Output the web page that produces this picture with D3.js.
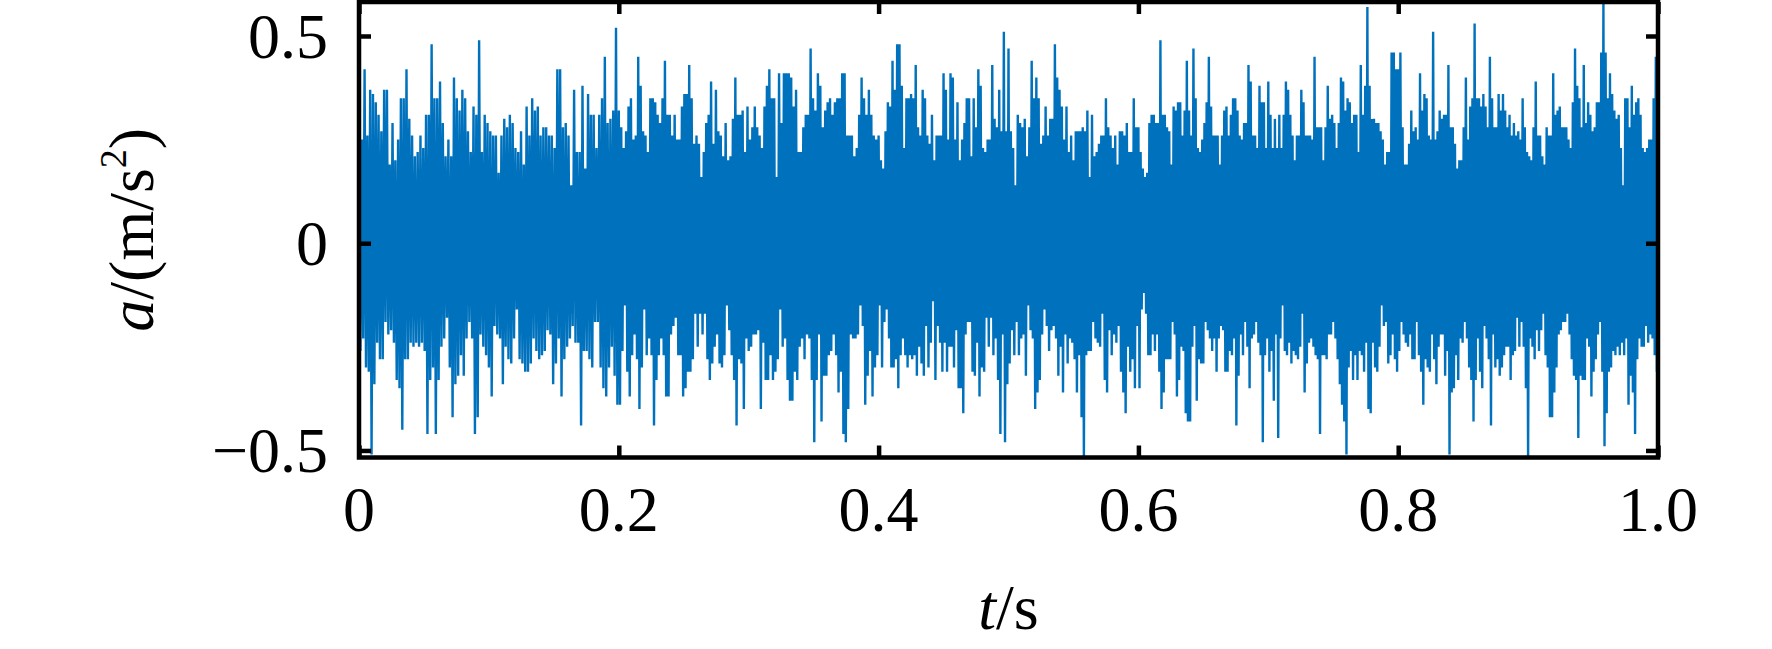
<!DOCTYPE html>
<html><head><meta charset="utf-8">
<script src="https://cdn.jsdelivr.net/npm/d3@7"></script>
<style>body{margin:0;background:#fff}svg{display:block}</style>
</head><body><svg id="c" width="1772" height="649"></svg>
<script>
// ---- tick values / labels ----
const xTicks = [0, 0.2, 0.4, 0.6, 0.8, 1.0];
const xTickLabels = ["0", "0.2", "0.4", "0.6", "0.8", "1.0"];
const yTicks = [-0.5, 0, 0.5];
const yTickLabels = ["\u22120.5", "0", "0.5"];

// ---- acceleration record a (m/s^2): positive peaks and negative troughs read per 0.2 s block ----
const peaks1 = [0.33,0.25,0.42,0.26,0.37,0.36,0.34,0.31,0.27,0.37,0.37,0.19,0.29,0.20,0.25,0.35,0.35,0.42,0.30,0.26,0.21,0.22,0.26,0.23,0.31,0.31,0.48,0.35,0.35,0.39,0.29,0.21,0.25,0.21,0.40,0.35,0.32,0.37,0.35,0.27,0.22,0.33,0.31,0.49,0.22,0.31,0.29,0.27,0.26,0.26,0.17,0.26,0.30,0.28,0.31,0.29,0.23,0.22,0.27,0.19,0.33,0.26,0.35,0.32,0.33,0.26,0.28,0.28,0.26,0.26,0.23,0.42,0.42,0.28,0.29,0.26,0.14,0.37,0.22,0.22,0.38,0.18,0.36,0.31,0.31,0.23,0.31,0.35,0.45,0.29,0.30,0.32,0.52];
const troughs1 = [-0.26,-0.23,-0.30,-0.31,-0.51,-0.34,-0.24,-0.28,-0.28,-0.19,-0.22,-0.21,-0.24,-0.33,-0.35,-0.45,-0.28,-0.28,-0.24,-0.25,-0.24,-0.25,-0.24,-0.26,-0.46,-0.33,-0.30,-0.46,-0.33,-0.25,-0.23,-0.18,-0.30,-0.42,-0.34,-0.32,-0.27,-0.32,-0.23,-0.19,-0.23,-0.46,-0.42,-0.22,-0.25,-0.27,-0.30,-0.37,-0.20,-0.22,-0.23,-0.34,-0.25,-0.28,-0.29,-0.23,-0.16,-0.28,-0.29,-0.31,-0.31,-0.29,-0.23,-0.26,-0.28,-0.27,-0.26,-0.21,-0.22,-0.34,-0.29,-0.23,-0.37,-0.28,-0.25,-0.23,-0.20,-0.24,-0.24,-0.44,-0.26,-0.26,-0.28,-0.30,-0.19,-0.19,-0.30,-0.35,-0.37,-0.30,-0.25,-0.32,-0.39];
const peaks2 = [0.32,0.28,0.23,0.27,0.33,0.35,0.25,0.26,0.45,0.38,0.27,0.26,0.22,0.35,0.35,0.34,0.31,0.29,0.35,0.44,0.31,0.31,0.26,0.31,0.25,0.25,0.33,0.36,0.36,0.43,0.35,0.24,0.26,0.24,0.16,0.22,0.29,0.31,0.39,0.24,0.37,0.27,0.26,0.21,0.29,0.20,0.21,0.30,0.40,0.31,0.31,0.32,0.22,0.33,0.25,0.28,0.33,0.28,0.26,0.23,0.33,0.38,0.42,0.35,0.35,0.16,0.41,0.29,0.41,0.41,0.41,0.40,0.33,0.37,0.22,0.22,0.28,0.31,0.31,0.47,0.35,0.32,0.41,0.38,0.28,0.32,0.34,0.35,0.31,0.34,0.35,0.35,0.41,0.41,0.26,0.26,0.26,0.21,0.23,0.31,0.40,0.35,0.31,0.37,0.31,0.26,0.25];
const troughs2 = [-0.39,-0.26,-0.15,-0.31,-0.37,-0.27,-0.22,-0.28,-0.40,-0.30,-0.16,-0.27,-0.23,-0.27,-0.44,-0.33,-0.27,-0.23,-0.27,-0.37,-0.37,-0.22,-0.20,-0.18,-0.27,-0.27,-0.37,-0.35,-0.31,-0.31,-0.28,-0.17,-0.25,-0.17,-0.22,-0.17,-0.28,-0.33,-0.29,-0.25,-0.22,-0.29,-0.30,-0.27,-0.15,-0.21,-0.27,-0.33,-0.44,-0.28,-0.29,-0.40,-0.23,-0.26,-0.25,-0.22,-0.22,-0.21,-0.40,-0.24,-0.33,-0.33,-0.27,-0.33,-0.31,-0.28,-0.16,-0.25,-0.23,-0.33,-0.38,-0.38,-0.31,-0.33,-0.25,-0.23,-0.28,-0.22,-0.23,-0.33,-0.48,-0.33,-0.22,-0.43,-0.32,-0.32,-0.27,-0.26,-0.22,-0.27,-0.36,-0.31,-0.46,-0.48,-0.40,-0.22,-0.23,-0.23,-0.22,-0.15,-0.20,-0.39,-0.32,-0.26,-0.37,-0.30,-0.27];
const peaks3 = [0.26,0.20,0.18,0.27,0.34,0.33,0.44,0.37,0.48,0.48,0.38,0.23,0.35,0.35,0.36,0.35,0.43,0.28,0.26,0.37,0.35,0.26,0.24,0.31,0.20,0.26,0.26,0.26,0.41,0.37,0.25,0.41,0.40,0.25,0.34,0.20,0.25,0.29,0.35,0.35,0.21,0.35,0.28,0.42,0.38,0.23,0.22,0.25,0.25,0.43,0.30,0.28,0.37,0.27,0.51,0.27,0.47,0.27,0.23,0.14,0.31,0.29,0.28,0.30,0.21,0.28,0.44,0.35,0.40,0.35,0.24,0.26,0.33,0.26,0.30,0.30,0.48,0.40,0.37,0.33,0.25,0.33,0.22,0.26,0.20,0.27,0.27,0.27,0.28,0.27,0.32,0.16,0.31,0.21,0.22,0.24,0.26,0.26,0.35,0.28,0.26,0.23,0.26,0.19,0.27,0.27,0.26,0.29,0.22,0.22,0.35,0.28];
const troughs3 = [-0.15,-0.30,-0.19,-0.16,-0.23,-0.30,-0.30,-0.28,-0.35,-0.27,-0.23,-0.27,-0.30,-0.27,-0.28,-0.27,-0.32,-0.25,-0.29,-0.32,-0.20,-0.30,-0.24,-0.14,-0.33,-0.20,-0.24,-0.31,-0.24,-0.31,-0.25,-0.25,-0.30,-0.21,-0.35,-0.35,-0.41,-0.22,-0.19,-0.19,-0.31,-0.32,-0.24,-0.37,-0.30,-0.31,-0.18,-0.25,-0.18,-0.27,-0.23,-0.33,-0.46,-0.22,-0.48,-0.34,-0.29,-0.21,-0.27,-0.19,-0.27,-0.23,-0.22,-0.32,-0.15,-0.21,-0.23,-0.40,-0.36,-0.33,-0.22,-0.16,-0.20,-0.26,-0.21,-0.20,-0.23,-0.32,-0.25,-0.36,-0.22,-0.29,-0.23,-0.24,-0.28,-0.36,-0.27,-0.42,-0.52,-0.27,-0.26,-0.26,-0.19,-0.23,-0.24,-0.25,-0.17,-0.33,-0.36,-0.21,-0.27,-0.22,-0.24,-0.20,-0.31,-0.36,-0.41,-0.25,-0.31,-0.28,-0.35,-0.20];
const peaks4 = [0.28,0.22,0.18,0.16,0.17,0.29,0.31,0.31,0.29,0.29,0.49,0.31,0.31,0.28,0.27,0.19,0.33,0.32,0.34,0.34,0.26,0.32,0.44,0.32,0.26,0.47,0.35,0.23,0.22,0.25,0.29,0.34,0.45,0.33,0.26,0.26,0.26,0.19,0.26,0.32,0.33,0.26,0.31,0.35,0.35,0.32,0.26,0.25,0.29,0.29,0.43,0.39,0.26,0.26,0.23,0.38,0.34,0.34,0.23,0.39,0.31,0.23,0.30,0.23,0.31,0.23,0.31,0.39,0.37,0.31,0.26,0.20,0.26,0.26,0.37,0.34,0.26,0.26,0.26,0.25,0.45,0.28,0.28,0.28,0.20,0.28,0.38,0.30,0.31,0.29,0.23,0.29,0.40,0.39,0.32,0.35,0.34,0.29,0.31,0.31,0.22,0.43,0.31,0.38,0.57,0.38,0.30,0.30,0.29,0.29,0.27,0.25,0.19,0.22,0.22,0.46,0.46,0.42];
const troughs4 = [-0.35,-0.16,-0.12,-0.17,-0.27,-0.27,-0.22,-0.26,-0.22,-0.31,-0.40,-0.36,-0.28,-0.28,-0.28,-0.19,-0.22,-0.37,-0.33,-0.25,-0.26,-0.41,-0.43,-0.43,-0.25,-0.20,-0.38,-0.28,-0.29,-0.29,-0.19,-0.21,-0.23,-0.26,-0.23,-0.31,-0.23,-0.20,-0.21,-0.31,-0.31,-0.26,-0.27,-0.23,-0.44,-0.32,-0.22,-0.27,-0.19,-0.25,-0.35,-0.23,-0.22,-0.19,-0.24,-0.27,-0.48,-0.27,-0.23,-0.31,-0.26,-0.38,-0.22,-0.47,-0.23,-0.15,-0.26,-0.27,-0.24,-0.29,-0.26,-0.27,-0.28,-0.25,-0.17,-0.36,-0.29,-0.24,-0.23,-0.25,-0.27,-0.28,-0.46,-0.27,-0.27,-0.28,-0.22,-0.22,-0.19,-0.23,-0.28,-0.34,-0.39,-0.43,-0.51,-0.30,-0.26,-0.33,-0.27,-0.33,-0.26,-0.27,-0.31,-0.24,-0.40,-0.41,-0.24,-0.30,-0.31,-0.25,-0.15,-0.20,-0.19,-0.29,-0.27,-0.22,-0.28,-0.31];
const peaks5 = [0.42,0.46,0.28,0.19,0.19,0.24,0.32,0.27,0.28,0.25,0.41,0.32,0.36,0.35,0.26,0.25,0.51,0.25,0.27,0.32,0.30,0.31,0.31,0.43,0.28,0.28,0.24,0.18,0.20,0.20,0.28,0.40,0.25,0.33,0.35,0.53,0.35,0.35,0.33,0.36,0.33,0.28,0.45,0.35,0.28,0.28,0.36,0.32,0.36,0.32,0.28,0.31,0.26,0.29,0.26,0.27,0.25,0.35,0.28,0.22,0.21,0.20,0.28,0.39,0.26,0.26,0.21,0.19,0.28,0.26,0.26,0.41,0.31,0.32,0.33,0.28,0.28,0.28,0.25,0.23,0.34,0.47,0.38,0.35,0.28,0.43,0.29,0.34,0.31,0.27,0.28,0.34,0.34,0.46,0.58,0.46,0.35,0.41,0.36,0.32,0.30,0.31,0.23,0.14,0.35,0.35,0.28,0.38,0.31,0.34,0.35,0.31,0.23,0.22,0.23,0.25,0.25,0.35,0.45];
const troughs5 = [-0.26,-0.19,-0.22,-0.24,-0.25,-0.22,-0.28,-0.28,-0.19,-0.27,-0.31,-0.39,-0.28,-0.30,-0.31,-0.22,-0.28,-0.34,-0.25,-0.22,-0.22,-0.32,-0.26,-0.51,-0.36,-0.35,-0.27,-0.33,-0.23,-0.24,-0.19,-0.23,-0.30,-0.33,-0.43,-0.33,-0.23,-0.31,-0.35,-0.20,-0.23,-0.28,-0.44,-0.22,-0.30,-0.28,-0.32,-0.30,-0.27,-0.25,-0.25,-0.33,-0.27,-0.26,-0.18,-0.25,-0.19,-0.25,-0.35,-0.52,-0.23,-0.25,-0.28,-0.21,-0.26,-0.21,-0.17,-0.27,-0.30,-0.42,-0.42,-0.36,-0.30,-0.22,-0.21,-0.19,-0.19,-0.17,-0.22,-0.28,-0.32,-0.33,-0.47,-0.32,-0.33,-0.33,-0.23,-0.25,-0.37,-0.31,-0.28,-0.22,-0.19,-0.31,-0.49,-0.41,-0.31,-0.30,-0.26,-0.27,-0.25,-0.27,-0.24,-0.27,-0.23,-0.39,-0.32,-0.36,-0.46,-0.28,-0.23,-0.25,-0.25,-0.20,-0.24,-0.22,-0.23,-0.27,-0.31];

const blocks = [[peaks1, troughs1], [peaks2, troughs2], [peaks3, troughs3], [peaks4, troughs4], [peaks5, troughs5]];
const blockDur = 0.2;

// samples: peaks and troughs of each block evenly spaced in time, interleaved
const series = [];
blocks.forEach(([pk, tr], j) => {
  pk.forEach((v, i) => series.push({t: j * blockDur + blockDur * i / pk.length, a: v}));
  tr.forEach((v, i) => series.push({t: j * blockDur + blockDur * (i + 0.5) / tr.length, a: v}));
});
series.sort((p, q) => p.t - q.t);

// ---- layout ----
const svg = d3.select("#c");
const L = 359, R = 1658, T = 2, B = 457.5;
const x = d3.scaleLinear().domain([0, 1]).range([L, R]);
const y = d3.scaleLinear().domain([-0.517, 0.582]).range([B, T]);
const FONT = "'Liberation Serif','Times New Roman',serif";
const BLUE = "#0072BD";

svg.append("defs").append("clipPath").attr("id", "clip")
  .append("rect").attr("x", L).attr("y", T).attr("width", R - L).attr("height", B - T);

svg.append("path").datum(series)
  .attr("clip-path", "url(#clip)")
  .attr("fill", "none").attr("stroke", BLUE).attr("stroke-width", 2.4)
  .attr("stroke-linejoin", "miter").attr("stroke-miterlimit", 2)
  .attr("d", d3.line().x(d => x(d.t)).y(d => y(d.a)));

// axes (ticks inward on all four sides) using d3 axes
const tickLen = 12;
const axB = d3.axisBottom(x).tickValues(xTicks).tickSize(-tickLen).tickFormat("");
const axT = d3.axisTop(x).tickValues(xTicks).tickSize(-tickLen).tickFormat("");
const axL = d3.axisLeft(y).tickValues(yTicks).tickSize(-tickLen).tickFormat("");
const axR = d3.axisRight(y).tickValues(yTicks).tickSize(-tickLen).tickFormat("");
[[axB, `translate(0,${B})`], [axT, `translate(0,${T})`], [axL, `translate(${L},0)`], [axR, `translate(${R},0)`]]
  .forEach(([ax, tr]) => {
    const g = svg.append("g").attr("transform", tr).call(ax);
    g.select(".domain").remove();
    g.selectAll(".tick line").attr("stroke", "#000").attr("stroke-width", 4.5);
  });

// frame
svg.append("rect").attr("x", L).attr("y", T).attr("width", R - L).attr("height", B - T)
  .attr("fill", "none").attr("stroke", "#000").attr("stroke-width", 4.5);

// tick labels
svg.append("g").selectAll("text").data(xTicks).join("text")
  .attr("x", d => x(d)).attr("y", 531)
  .attr("text-anchor", "middle").attr("font-family", FONT).attr("font-size", 64)
  .text((d, i) => xTickLabels[i]);
svg.append("g").selectAll("text").data(yTicks).join("text")
  .attr("x", 328).attr("y", d => y(d) + 22)
  .attr("text-anchor", "end").attr("font-family", FONT).attr("font-size", 64)
  .text((d, i) => yTickLabels[i]);

// axis titles
const xt = svg.append("text").attr("x", (L + R) / 2).attr("y", 629)
  .attr("text-anchor", "middle").attr("font-family", FONT).attr("font-size", 64);
xt.append("tspan").attr("font-style", "italic").text("t");
xt.append("tspan").text("/s");

const yt = svg.append("text").attr("transform", `translate(153,${(T + B) / 2}) rotate(-90)`)
  .attr("text-anchor", "middle").attr("font-family", FONT).attr("font-size", 64);
yt.append("tspan").attr("font-style", "italic").text("a");
yt.append("tspan").text("/(m/s");
yt.append("tspan").attr("font-size", 38).attr("dy", -27).text("2");
yt.append("tspan").attr("dy", 27).text(")");
</script>
</body></html>
